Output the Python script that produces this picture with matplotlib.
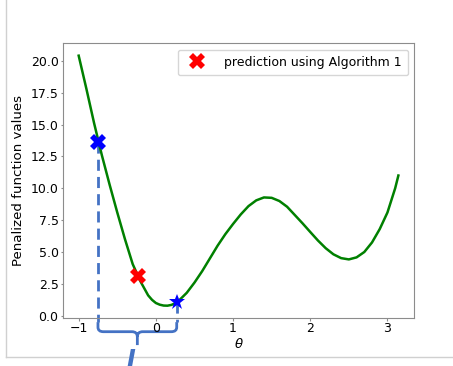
import numpy as np
import matplotlib
matplotlib.use("Agg")
from matplotlib import pyplot as plt
from matplotlib.path import Path
from matplotlib.patches import PathPatch
from matplotlib.lines import Line2D
from matplotlib.ticker import MultipleLocator

# penalized objective sampled along theta
theta = [-1.0, -0.9, -0.8, -0.7, -0.6, -0.5, -0.4, -0.3, -0.2, -0.1,
         -0.05, 0.0, 0.05, 0.1, 0.15, 0.2, 0.25, 0.3, 0.4, 0.5, 0.6, 0.7, 0.8, 0.9,
         1.0, 1.1, 1.2, 1.3, 1.4, 1.5, 1.6, 1.7, 1.8, 1.9,
         2.0, 2.1, 2.2, 2.3, 2.4, 2.5, 2.6, 2.7, 2.8, 2.9,
         3.0, 3.1, 3.1416]
values = [20.4, 17.8, 15.1, 12.6, 10.3, 8.1, 6.0, 4.05, 2.7, 1.6,
          1.25, 1.0, 0.87, 0.8, 0.79, 0.85, 0.97, 1.2, 1.8, 2.6, 3.5, 4.5, 5.5, 6.4,
          7.2, 7.95, 8.6, 9.05, 9.28, 9.25, 9.0, 8.55, 7.9, 7.25,
          6.57, 5.9, 5.3, 4.82, 4.52, 4.42, 4.58, 5.0, 5.75, 6.8,
          8.1, 10.0, 11.0]

pred_theta = [-0.235]
pred_value = [3.08]
start_theta = [-0.75]
start_value = [13.6]
opt_theta = [0.27]
opt_value = [1.1]

interval_label = "I"
legend_label = "prediction using Algorithm 1"

brace_col = "#4472C4"
spine_col = "#8c8c8c"

fig = plt.figure(figsize=(4.53, 3.66), dpi=100)
ax = fig.add_axes([0.1384, 0.1303, 0.7762, 0.7514])

ax.plot(theta, values, color="green", lw=1.8, zorder=2)

# dashed drops from the two blue points
for tx, ty in [(start_theta[0], start_value[0]), (opt_theta[0], opt_value[0])]:
    ax.plot([tx, tx], [ty, -0.5], color=brace_col, lw=2, ls=(0, (4, 2.2)),
            clip_on=False, zorder=1)

ax.plot(pred_theta, pred_value, "X", color="red", ms=11, mew=0,
        label=legend_label, zorder=4, clip_on=False)
ax.plot(start_theta, start_value, "X", color="blue", ms=11, mew=0, zorder=4)
ax.plot(opt_theta, opt_value, "*", color="blue", ms=12, mew=0, zorder=4)

# curly brace under the interval
xl, xr = start_theta[0], opt_theta[0]
xm = (xl + xr) / 2
y0, yc, yk, ys = -0.5, -1.25, -1.65, -2.3
dx, dy = 0.07, 0.35
verts = [(xl, y0), (xl, yc + dy), (xl, yc), (xl + dx, yc),
         (xm - dx, yc), (xm, yc), (xm, yk), (xm, ys),
         (xm, yk), (xm, yc), (xm + dx, yc),
         (xr - dx, yc), (xr, yc), (xr, yc + dy), (xr, y0)]
codes = [Path.MOVETO, Path.LINETO, Path.CURVE3, Path.CURVE3,
         Path.LINETO, Path.CURVE3, Path.CURVE3, Path.LINETO,
         Path.MOVETO, Path.CURVE3, Path.CURVE3,
         Path.LINETO, Path.CURVE3, Path.CURVE3, Path.LINETO]
ax.add_patch(PathPatch(Path(verts, codes), fill=False, ec=brace_col, lw=2,
                       clip_on=False, zorder=1))
fig.text(131 / 453, 0.05, interval_label, color=brace_col, fontsize=17,
         style="italic", fontweight="bold", ha="center", va="top")

ax.set_xlim(-1.207, 3.348)
ax.set_ylim(-0.2, 21.37)
ax.yaxis.set_major_locator(MultipleLocator(2.5))
ax.set_xlabel(r"$\theta$", fontsize=9.5, labelpad=1)
ax.set_ylabel("Penalized function values", fontsize=9.6, labelpad=4)
ax.tick_params(labelsize=9, color=spine_col, length=1.8, pad=1.2)
for s in ax.spines.values():
    s.set_color(spine_col)
ax.legend(loc="upper right", fontsize=9, handletextpad=1.2, borderpad=0.5)

# page frame lines
fig.add_artist(Line2D([5.5 / 453, 5.5 / 453], [1, 9.5 / 366], color="#d0d0d0", lw=1))
fig.add_artist(Line2D([5.5 / 453, 1], [9.5 / 366, 9.5 / 366], color="#d0d0d0", lw=1))

fig.savefig("out.png", dpi=100)
